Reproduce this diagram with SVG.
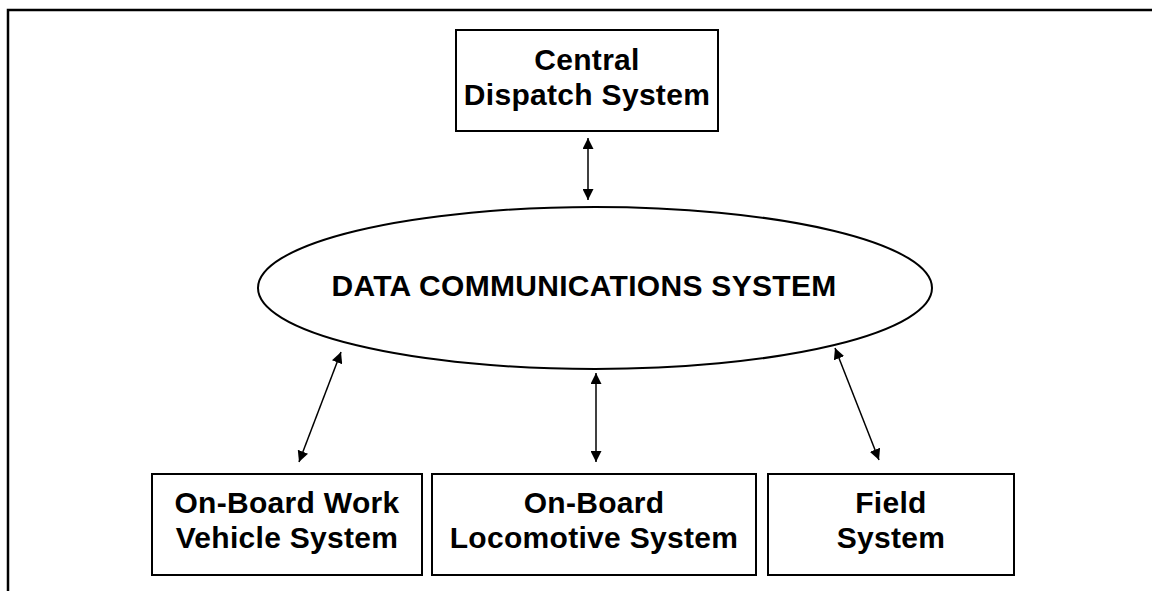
<svg xmlns="http://www.w3.org/2000/svg" width="1152" height="591" viewBox="0 0 1152 591">
<style>
.box{fill:#fff;stroke:#000;stroke-width:2}
.t{font-family:"Liberation Sans",Arial,sans-serif;font-weight:bold;font-size:30px;letter-spacing:0.3px;text-anchor:middle;fill:#000}
.c{stroke:#000;stroke-width:1.5;fill:none;marker-start:url(#ah);marker-end:url(#ah)}
</style>
<defs>
<marker id="ah" viewBox="0 0 10 10" refX="10" refY="5" markerWidth="11" markerHeight="11" markerUnits="userSpaceOnUse" orient="auto-start-reverse">
<path d="M0,0 L10,5 L0,10 z" fill="#000"/>
</marker>
</defs>
<rect width="1152" height="591" fill="#fff"/>
<path d="M8,591 V10 H1152" stroke="#000" stroke-width="2.5" fill="none"/>
<g id="central">
<rect class="box" x="456" y="30" width="262" height="101"/>
<text class="t" x="587" y="70">Central</text>
<text class="t" x="587" y="105">Dispatch System</text>
</g>
<g id="dcs">
<ellipse cx="595" cy="288" rx="337" ry="81" fill="#fff" stroke="#000" stroke-width="2"/>
<text class="t" x="584" y="296">DATA COMMUNICATIONS SYSTEM</text>
</g>
<g id="workvehicle">
<rect class="box" x="152" y="474" width="270" height="101"/>
<text class="t" x="287" y="513">On-Board Work</text>
<text class="t" x="287" y="548">Vehicle System</text>
</g>
<g id="locomotive">
<rect class="box" x="432" y="474" width="324" height="101"/>
<text class="t" x="594" y="513">On-Board</text>
<text class="t" x="594" y="548">Locomotive System</text>
</g>
<g id="field">
<rect class="box" x="768" y="474" width="246" height="101"/>
<text class="t" x="891" y="513">Field</text>
<text class="t" x="891" y="548">System</text>
</g>
<g id="connectors">
<line class="c" x1="588" y1="138" x2="588" y2="200"/>
<line class="c" x1="596" y1="373" x2="596" y2="462"/>
<line class="c" x1="341" y1="352" x2="299" y2="462"/>
<line class="c" x1="835" y1="348" x2="879" y2="460"/>
</g>
</svg>
